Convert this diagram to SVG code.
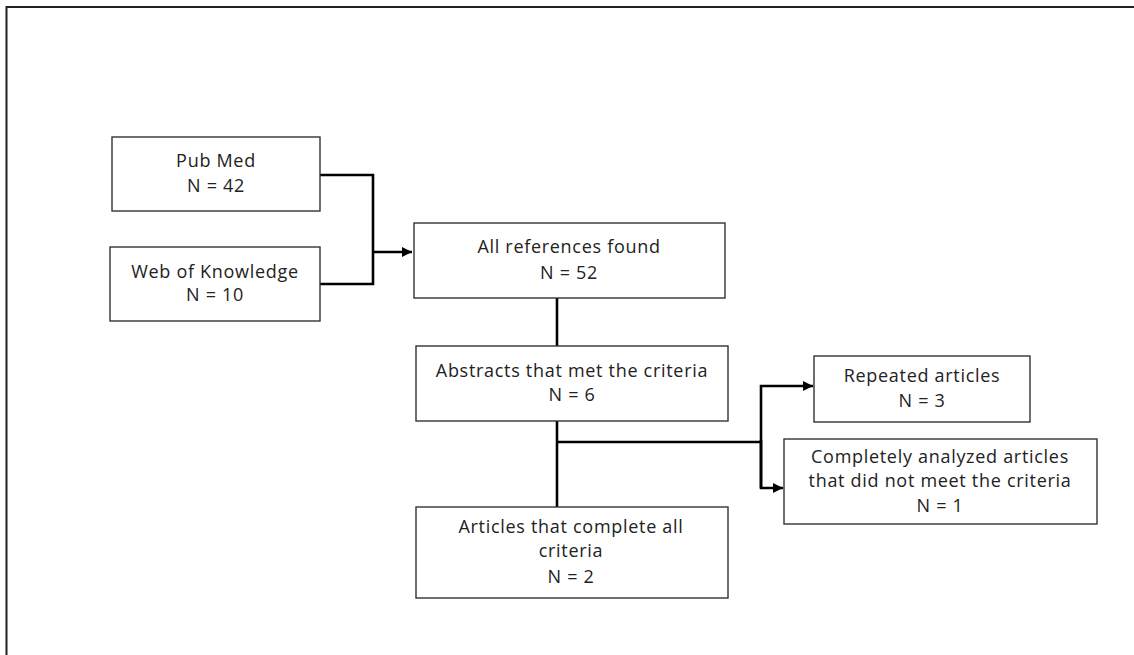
<svg xmlns="http://www.w3.org/2000/svg" width="1134" height="655" viewBox="0 0 1134 655">
<defs>
<style>
.box{fill:#fff;stroke:#333;stroke-width:1.4}
.t{font-family:"Open Sans","Liberation Sans",sans-serif;font-size:18px;letter-spacing:0.7px;fill:#222;text-anchor:middle}
.c{fill:none;stroke:#000;stroke-width:2.6}
</style>
<marker id="ah" viewBox="0 0 10 10" refX="10" refY="5" markerWidth="4" markerHeight="4" orient="auto" markerUnits="strokeWidth">
<path d="M0,0 L10,5 L0,10 z" fill="#000"/>
</marker>
</defs>
<rect width="1134" height="655" fill="#fff"/>
<g id="frame">
<path d="M6.5,655 V7 H1134" fill="none" stroke="#222" stroke-width="2"/>
</g>
<g id="connectors">
<path class="c" d="M320,175 H373 V284 H320"/>
<path class="c" d="M373,252 H412" marker-end="url(#ah)"/>
<path class="c" d="M557,298 V346"/>
<path class="c" d="M557,421 V507"/>
<path class="c" d="M557,442 H761"/>
<path class="c" d="M761,488 V386 H813" marker-end="url(#ah)"/>
<path class="c" d="M761,440 V488 H783" marker-end="url(#ah)"/>
</g>
<g id="pubmed">
<rect class="box" x="112" y="137" width="208" height="74"/>
<text class="t" x="216" y="167">Pub Med</text>
<text class="t" x="216" y="192">N = 42</text>
</g>
<g id="wok">
<rect class="box" x="110" y="247" width="210" height="74"/>
<text class="t" x="215" y="278">Web of Knowledge</text>
<text class="t" x="215" y="301">N = 10</text>
</g>
<g id="allrefs">
<rect class="box" x="414" y="223" width="311" height="75"/>
<text class="t" x="569" y="253">All references found</text>
<text class="t" x="569" y="279">N = 52</text>
</g>
<g id="abstracts">
<rect class="box" x="416" y="346" width="312" height="75"/>
<text class="t" x="572" y="377">Abstracts that met the criteria</text>
<text class="t" x="572" y="401">N = 6</text>
</g>
<g id="repeated">
<rect class="box" x="814" y="356" width="216" height="66"/>
<text class="t" x="922" y="382">Repeated articles</text>
<text class="t" x="922" y="407">N = 3</text>
</g>
<g id="completely">
<rect class="box" x="784" y="439" width="313" height="85"/>
<text class="t" x="940" y="463">Completely analyzed articles</text>
<text class="t" x="940" y="487">that did not meet the criteria</text>
<text class="t" x="940" y="512">N = 1</text>
</g>
<g id="complete">
<rect class="box" x="416" y="507" width="312" height="91"/>
<text class="t" x="571" y="533">Articles that complete all</text>
<text class="t" x="571" y="557">criteria</text>
<text class="t" x="571" y="583">N = 2</text>
</g>
</svg>
